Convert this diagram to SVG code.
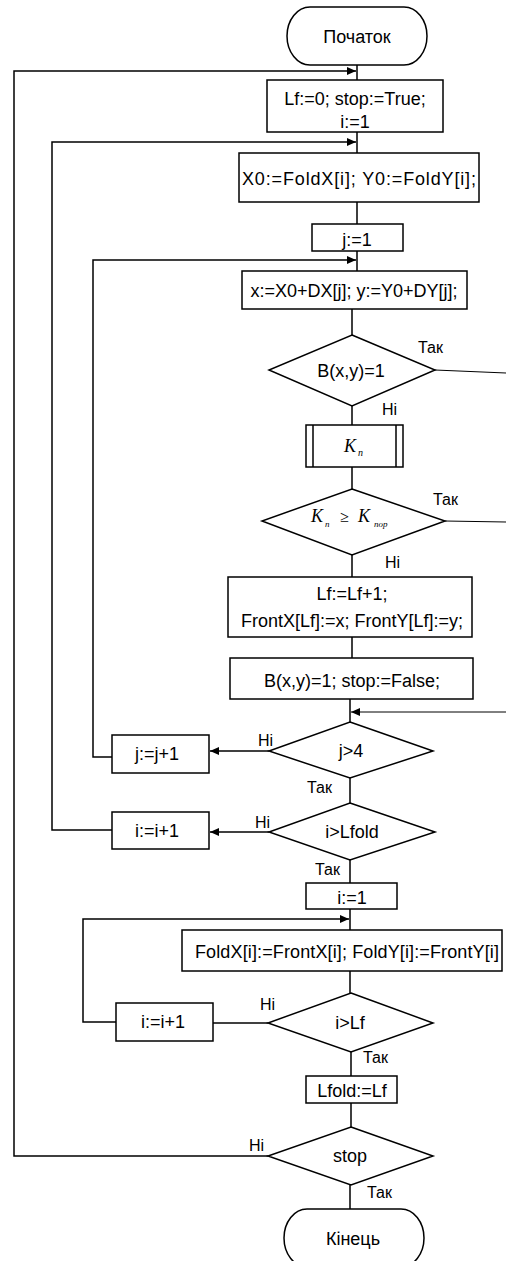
<svg xmlns="http://www.w3.org/2000/svg" width="506" height="1261" viewBox="0 0 506 1261">
<defs>
<style>
.s{fill:#fff;stroke:#000;stroke-width:1.5}
.t{font-family:"Liberation Sans",Arial,sans-serif;font-size:18px;fill:#000;text-anchor:middle}
.l{font-family:"Liberation Sans",Arial,sans-serif;font-size:16px;fill:#000}
.m{font-family:"Liberation Serif",serif;font-style:italic;fill:#000}
.c{fill:none;stroke:#000;stroke-width:1.5}
.c2{fill:none;stroke:#000;stroke-width:1}
</style>
<marker id="a" markerUnits="userSpaceOnUse" markerWidth="10" markerHeight="8" refX="9" refY="4" orient="auto">
<path d="M0,0 L9,4 L0,8 Z" fill="#000"/>
</marker>
</defs>
<rect width="506" height="1261" fill="#fff"/>
<g id="connectors">
<path class="c" d="M357,65 V80 M357,132 V153 M357,202 V224 M357,251 V271 M352,309 V335 M352,406 V425 M352,467 V489 M352,555 V577 M352,637 V658 M350,699 V722 M350,778 V803 M350,860 V883 M350,909 V930 M350,971 V993 M351,1052 V1076 M351,1103 V1127 M350,1185 V1209"/>
<path class="c" d="M268,1156 H14 V71 H356" marker-end="url(#a)"/>
<path class="c" d="M112,830 H52 V142 H356" marker-end="url(#a)"/>
<path class="c" d="M115,757 H93 V260 H356" marker-end="url(#a)"/>
<path class="c" d="M116,1022 H83 V919 H349" marker-end="url(#a)"/>
<path class="c" d="M269,751 H210" marker-end="url(#a)"/>
<path class="c" d="M269,832 H210" marker-end="url(#a)"/>
<path class="c" d="M268,1023 H213"/>
<path class="c2" d="M435,370 L506,373"/>
<path class="c2" d="M445,521 L506,522"/>
<path class="c2" d="M506,712 H351" stroke="#444" marker-end="url(#a)"/>
</g>
<g id="start"><rect class="s" x="287" y="7" width="140" height="58" rx="23" ry="29"/><text class="t" x="357" y="43">Початок</text></g>
<g id="init"><rect class="s" x="267" y="80" width="176" height="52"/><text class="t" x="355" y="105">Lf:=0; stop:=True;</text><text class="t" x="355" y="128">i:=1</text></g>
<g id="x0"><rect class="s" x="239" y="153" width="240" height="49"/><text class="t" x="359" y="185" textLength="234">X0:=FoldX[i]; Y0:=FoldY[i];</text></g>
<g id="j1"><rect class="s" x="312" y="224" width="91" height="27"/><text class="t" x="357" y="246">j:=1</text></g>
<g id="xy"><rect class="s" x="242" y="271" width="225" height="38"/><text class="t" x="354" y="297">x:=X0+DX[j]; y:=Y0+DY[j];</text></g>
<g id="d1"><polygon class="s" points="352,335 435,370 352,406 269,370"/><text class="t" x="351" y="377">B(x,y)=1</text><text class="l" x="418" y="353">Так</text><text class="l" x="382" y="415">Ні</text></g>
<g id="kn"><rect class="s" x="306" y="425" width="97" height="42"/><path class="c" d="M313,425 V467 M396,425 V467"/><text class="m" x="344" y="452" font-size="18">K</text><text class="m" x="358" y="456" font-size="10">п</text></g>
<g id="d2"><polygon class="s" points="352,489 445,521 352,555 262,521"/><text class="m" x="311" y="522" font-size="18">K</text><text class="m" x="325" y="527" font-size="9">п</text><text class="m" x="340" y="522" font-size="16" font-style="normal">≥</text><text class="m" x="358" y="522" font-size="18">K</text><text class="m" x="374" y="527" font-size="9">пор</text><text class="l" x="433" y="505">Так</text><text class="l" x="385" y="568">Ні</text></g>
<g id="lf"><rect class="s" x="228" y="577" width="244" height="60"/><text class="t" x="352" y="600">Lf:=Lf+1;</text><text class="t" x="352" y="627">FrontX[Lf]:=x; FrontY[Lf]:=y;</text></g>
<g id="bxy"><rect class="s" x="230" y="658" width="243" height="41"/><text class="t" x="352" y="687">B(x,y)=1; stop:=False;</text></g>
<g id="d3"><polygon class="s" points="350,722 433,751 350,778 269,751"/><text class="t" x="351" y="757">j&gt;4</text><text class="l" x="258" y="746">Ні</text><text class="l" x="307" y="793">Так</text></g>
<g id="jinc"><rect class="s" x="112" y="735" width="97" height="38"/><text class="t" x="157" y="760">j:=j+1</text></g>
<g id="d4"><polygon class="s" points="350,803 435,832 350,860 269,832"/><text class="t" x="352" y="838">i&gt;Lfold</text><text class="l" x="255" y="828">Ні</text><text class="l" x="315" y="875">Так</text></g>
<g id="iinc"><rect class="s" x="112" y="812" width="97" height="37"/><text class="t" x="157" y="837">i:=i+1</text></g>
<g id="i1"><rect class="s" x="306" y="883" width="91" height="26"/><text class="t" x="352" y="904">i:=1</text></g>
<g id="fold"><rect class="s" x="182" y="930" width="320" height="41"/><text class="t" x="347" y="958" textLength="304">FoldX[i]:=FrontX[i]; FoldY[i]:=FrontY[i]</text></g>
<g id="d5"><polygon class="s" points="351,993 433,1023 351,1052 268,1023"/><text class="t" x="350" y="1029">i&gt;Lf</text><text class="l" x="260" y="1010">Ні</text><text class="l" x="363" y="1063">Так</text></g>
<g id="iinc2"><rect class="s" x="116" y="1003" width="97" height="38"/><text class="t" x="163" y="1028">i:=i+1</text></g>
<g id="lfold"><rect class="s" x="306" y="1076" width="91" height="27"/><text class="t" x="352" y="1097">Lfold:=Lf</text></g>
<g id="d6"><polygon class="s" points="351,1127 433,1156 351,1185 268,1156"/><text class="t" x="350" y="1162">stop</text><text class="l" x="249" y="1151">Ні</text><text class="l" x="367" y="1198">Так</text></g>
<g id="end"><rect class="s" x="284" y="1209" width="140" height="58" rx="23" ry="29"/><text class="t" x="353" y="1245">Кінець</text></g>
</svg>
